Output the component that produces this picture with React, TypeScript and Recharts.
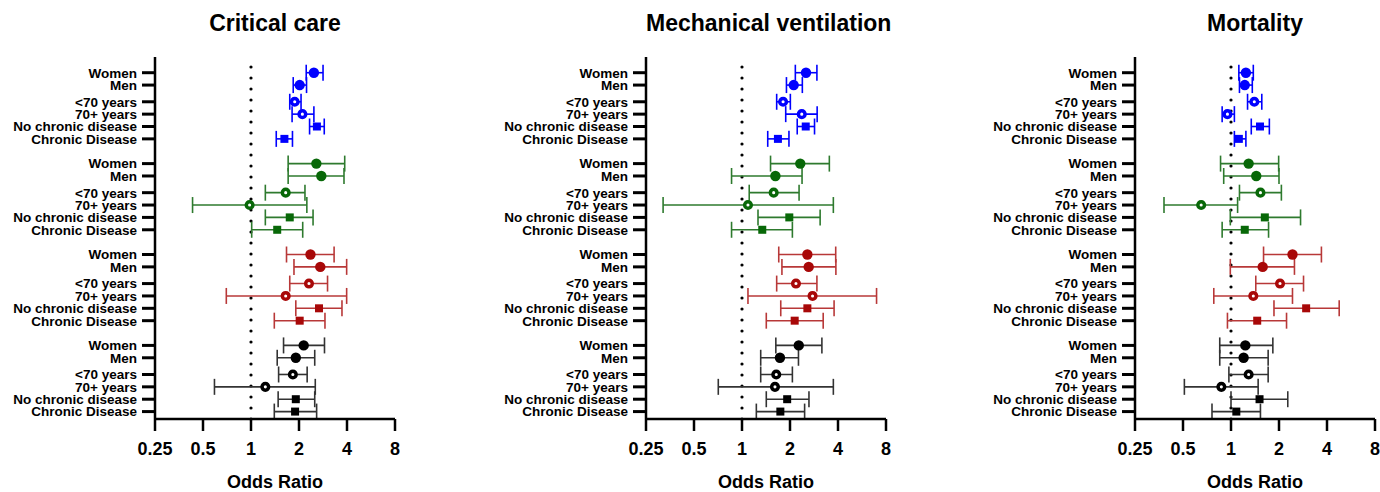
import { ErrorBar, ReferenceLine, Scatter, ScatterChart, XAxis, YAxis } from 'recharts';

// Rows inside each colour group (top to bottom)
const ROW_LABELS = ['Women', 'Men', '<70 years', '70+ years', 'No chronic disease', 'Chronic Disease'];
const ROW_KINDS = ['circle', 'circle', 'ring', 'ring', 'square', 'square'];

const X_TICKS = [0.25, 0.5, 1, 2, 4, 8];
const PANEL_TITLES = ['Critical care', 'Mechanical ventilation', 'Mortality'];

// [odds ratio, lower CI, upper CI] per row
const CC_BLUE = [[2.48, 2.22, 2.83], [2.02, 1.84, 2.23], [1.88, 1.75, 2.06], [2.1, 1.81, 2.48], [2.59, 2.33, 2.88], [1.62, 1.44, 1.82]];
const CC_GREEN = [[2.57, 1.71, 3.87], [2.76, 1.71, 3.83], [1.65, 1.23, 2.18], [0.98, 0.43, 2.24], [1.75, 1.23, 2.45], [1.46, 1.01, 2.11]];
const CC_RED = [[2.36, 1.67, 3.32], [2.72, 1.86, 3.98], [2.31, 1.75, 3.02], [1.65, 0.7, 3.98], [2.67, 1.91, 3.72], [2.02, 1.4, 2.91]];
const CC_BLACK = [[2.14, 1.6, 2.89], [1.91, 1.46, 2.51], [1.83, 1.49, 2.25], [1.23, 0.59, 2.53], [1.91, 1.48, 2.51], [1.89, 1.4, 2.58]];

const MV_BLUE = [[2.52, 2.16, 2.95], [2.11, 1.9, 2.39], [1.81, 1.65, 2.01], [2.37, 1.88, 2.96], [2.51, 2.22, 2.85], [1.68, 1.45, 1.97]];
const MV_GREEN = [[2.32, 1.51, 3.53], [1.62, 0.86, 2.38], [1.58, 1.11, 2.28], [1.09, 0.32, 3.74], [1.98, 1.26, 3.09], [1.34, 0.86, 2.07]];
const MV_RED = [[2.57, 1.7, 3.87], [2.62, 1.78, 3.88], [2.18, 1.65, 2.95], [2.77, 1.09, 6.98], [2.57, 1.75, 3.78], [2.14, 1.42, 3.23]];
const MV_BLACK = [[2.27, 1.63, 3.17], [1.73, 1.31, 2.26], [1.64, 1.31, 2.07], [1.61, 0.71, 3.74], [1.92, 1.42, 2.63], [1.74, 1.23, 2.47]];

const MO_BLUE = [[1.24, 1.12, 1.38], [1.22, 1.13, 1.36], [1.4, 1.27, 1.56], [0.95, 0.88, 1.05], [1.52, 1.34, 1.74], [1.12, 1.05, 1.24]];
const MO_GREEN = [[1.29, 0.86, 1.99], [1.44, 0.9, 2.0], [1.53, 1.13, 2.07], [0.65, 0.38, 1.1], [1.63, 0.99, 2.73], [1.22, 0.88, 1.72]];
const MO_RED = [[2.43, 1.6, 3.69], [1.58, 0.99, 2.5], [2.03, 1.43, 2.85], [1.38, 0.78, 2.43], [2.96, 1.86, 4.77], [1.46, 0.95, 2.23]];
const MO_BLACK = [[1.23, 0.85, 1.83], [1.2, 0.85, 1.71], [1.29, 0.97, 1.71], [0.87, 0.51, 1.48], [1.51, 1.0, 2.27], [1.08, 0.76, 1.53]];

const PANEL_GROUPS = [
    [CC_BLUE, CC_GREEN, CC_RED, CC_BLACK],
    [MV_BLUE, MV_GREEN, MV_RED, MV_BLACK],
    [MO_BLUE, MO_GREEN, MO_RED, MO_BLACK],
];

const MARK_COLORS = ['#0000ff', '#086808', '#a80808', '#000000'];
const BAR_COLORS = ['#0000ff', '#2e7a2e', '#b83838', '#333333'];

// vertical layout of rows, in row units
const ROW_OFFSETS = [0, 1, 2.35, 3.35, 4.35, 5.35];
const GROUP_STEP = 7.35;
const ROW_Y = PANEL_GROUPS[0].flatMap((_, g) => ROW_OFFSETS.map((o) => g * GROUP_STEP + o));

const FONT = '"Liberation Sans", Arial, Helvetica, sans-serif';
const PANEL_LEFT = [0, 491, 980];

function buildGroup(rows: number[][], g: number) {
    return rows.map(([or, lo, hi], i) => ({
        or,
        y: g * GROUP_STEP + ROW_OFFSETS[i],
        err: [or - lo, hi - or],
        kind: ROW_KINDS[i],
    }));
}

const makeMarker = (color: string) => (props: any) => {
    const { cx, cy, payload } = props;
    if (payload.kind === 'ring') {
        return <circle cx={cx} cy={cy} r={3.3} fill="#fff" stroke={color} strokeWidth={3.5} />;
    }
    if (payload.kind === 'square') {
        return <rect x={cx - 4} y={cy - 4} width={8} height={8} fill={color} />;
    }
    return <circle cx={cx} cy={cy} r={5.2} fill={color} />;
};

function RowTick(props: any) {
    const { x, y, payload } = props;
    const idx = ROW_Y.findIndex((v) => Math.abs(v - payload.value) < 1e-6);
    return (
        <text x={x} y={y} dy="0.36em" textAnchor="end" fontSize={13.5} fontWeight="bold" fill="#000">
            {ROW_LABELS[idx % ROW_LABELS.length]}
        </text>
    );
}

function ForestPanel({ title, groups, left }: { title: string; groups: number[][][]; left: number }) {
    return (
        <div style={{ position: 'absolute', left, top: 0, width: 400, height: 492 }}>
            <div
                style={{
                    position: 'absolute',
                    left: 155,
                    width: 240,
                    top: 12,
                    lineHeight: '23px',
                    textAlign: 'center',
                    fontSize: 23,
                    fontWeight: 'bold',
                    whiteSpace: 'nowrap',
                }}
            >
                {title}
            </div>
            <ScatterChart width={400} height={492} margin={{ top: 57, right: 5, bottom: 0, left: 0 }}>
                <XAxis
                    type="number"
                    dataKey="or"
                    scale="log"
                    domain={[0.25, 8]}
                    ticks={X_TICKS}
                    allowDataOverflow
                    height={73}
                    tickSize={12}
                    tickMargin={11}
                    axisLine={{ stroke: '#000', strokeWidth: 2.5 }}
                    tickLine={{ stroke: '#000', strokeWidth: 2.5 }}
                    tick={{ fill: '#000', fontSize: 18, fontWeight: 'bold' }}
                    label={{ value: 'Odds Ratio', position: 'insideBottom', offset: 4, fill: '#000', fontSize: 18, fontWeight: 'bold' }}
                />
                <YAxis
                    type="number"
                    dataKey="y"
                    reversed
                    domain={[-1.27, 28]}
                    allowDataOverflow
                    ticks={ROW_Y}
                    interval={0}
                    width={155}
                    tickSize={13}
                    tickMargin={5}
                    axisLine={{ stroke: '#000', strokeWidth: 2.5 }}
                    tickLine={{ stroke: '#000', strokeWidth: 3 }}
                    tick={<RowTick />}
                />
                <ReferenceLine x={1} stroke="#000" strokeWidth={3.2} strokeDasharray="0 11" strokeLinecap="round" />
                {groups.map((rows, g) => (
                    <Scatter
                        key={g}
                        data={buildGroup(rows, g)}
                        shape={makeMarker(MARK_COLORS[g])}
                        isAnimationActive={false}
                    >
                        <ErrorBar dataKey="err" direction="x" width={8} stroke={BAR_COLORS[g]} strokeWidth={1.6} />
                    </Scatter>
                ))}
            </ScatterChart>
        </div>
    );
}

export default function App() {
    return (
        <div
            style={{
                position: 'absolute',
                left: 0,
                top: 0,
                width: 1380,
                height: 492,
                background: '#fff',
                overflow: 'hidden',
                fontFamily: FONT,
                color: '#000',
            }}
        >
            {PANEL_TITLES.map((t, i) => (
                <ForestPanel key={t} title={t} groups={PANEL_GROUPS[i]} left={PANEL_LEFT[i]} />
            ))}
        </div>
    );
}
